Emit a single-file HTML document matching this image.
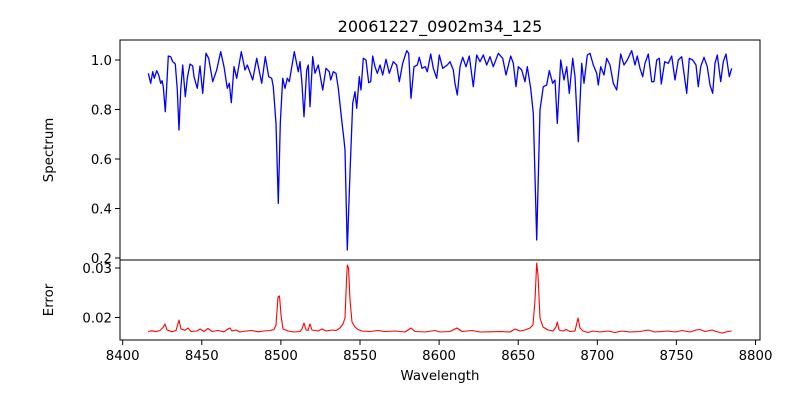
<!DOCTYPE html>
<html><head><meta charset="utf-8"><style>
body{margin:0;background:#fff}
svg{display:block;font-family:"DejaVu Sans","Liberation Sans",sans-serif}
</style></head><body>
<svg width="800" height="400" viewBox="0 0 800 400">
<rect width="800" height="400" fill="#fff"/>
<text x="440" y="32" font-size="16" text-anchor="middle">20061227_0902m34_125</text>
<polyline fill="none" stroke="#0000ff" stroke-width="1.3" stroke-linejoin="round" points="148.3,73.3 150.7,83.3 152.7,71.7 154.3,78.3 156.7,70.7 158.7,75 160.7,83.3 162,80.7 163.3,86.7 165.3,111.7 166.7,86.7 168.3,56 170.7,56.7 172.7,61.7 175.3,64 177.3,90 179,130 180.7,90 182.7,65 185.3,96.7 187.3,78.3 190,64 192.7,66 194,76.7 197.3,88.3 200,66 202.7,93.3 206,53.3 208.7,58.3 212.7,81.7 216.7,70 220.7,51.7 224,66.7 227.3,88.3 229.3,83.3 231.3,102.7 234,66.7 236.7,78.3 241.3,51.7 245,70 247.3,65 252.7,80 256.7,58.3 261.7,83.3 265.3,56.7 268.7,76.7 271.7,78.3 273.3,86.7 276,123.3 278.3,203.3 280.3,123.3 282.7,78.3 285,88.3 287.3,78.3 289.3,81.7 294.3,51.7 298.3,71.7 300,61.7 301.7,80 304,116.7 306.7,70 308.3,65 310,106.7 312.7,56.7 315,73.3 318.3,65 322.7,90 326,68.3 329.3,71.7 330.7,80 333.3,71.7 336,73.3 338.3,88.3 341.7,120 344,140 345,150 347.3,250 350,173 352.7,103.3 355,91.7 356.7,108.3 359.3,76.7 361,90 363.3,58.3 366,60 368.7,82.7 370.7,81.7 372.7,56 375,66.7 377.3,73.3 380,65 382.7,75 386,59.3 389.3,73.3 393.3,61.7 396.7,65 399.3,81.7 402.7,63.3 406.7,50.7 408.7,53.3 411,98.3 414,66.7 417.3,65 419.3,57.3 422,68.3 425.3,66.7 427.3,71.7 430.7,54 433.3,68.3 436.7,78.3 439.3,55 442.7,68.3 447.3,65 450,61.7 453.3,70 455,83.3 457.3,95 460,66.7 462.7,57.3 466,66.7 469.3,56 473.3,86.7 476.7,55 480,61.7 483.3,55 486.7,65 490,56.7 493.3,66.7 498.3,53.3 502.7,58.3 506,75 510.7,56 513.3,63.3 516,86.7 518.3,66.7 521.7,70 525,81.7 527.3,66.7 530.7,88.3 533.3,113.3 536.7,240 540,110 543.3,86.7 546.7,85 549.3,70.7 552.7,83.3 555,80 557.3,123.3 560.7,60 564,80 566.7,66.7 569.3,93.3 572.7,58.3 575,76.7 578.3,141.7 581.7,63.3 584,83.3 587.3,55 590,53.3 593.3,65 596.7,73.3 598.3,85 600.7,66.7 604,75 606.7,58.3 610,65 613.3,83.3 616.7,90 620.7,54 624,65 627.3,60 631.7,50.7 635,65 637.3,56 640,68.3 642.7,76.7 645,63.3 648.3,54 651.7,81.7 654,81.7 656.7,60 659.3,58.3 661.3,84 664.7,61.7 668.3,63.3 671.7,56 675,80 678.3,60 681.7,56.7 684,73.3 686.7,93.3 689.3,58.3 692.7,60 696,65 698.3,86.7 700.7,66.7 704,57.3 707.3,66.7 710,85 712.7,93.3 715,63.3 717.3,55 720.7,81.7 723.3,61.7 726,54 729.3,76.7 731.7,68.3"/>
<polyline fill="none" stroke="#ff0000" stroke-width="1.1" stroke-linejoin="round" points="148,331.5 152,330.8 156,331.6 160,330.5 163,327.5 165,324 167,330 172,331.7 176,330.5 179,320 181,329 185,330.3 188,328 191,331.5 197,331 200,329 204,331.5 208,328.5 212,331.5 218,330.5 224,331.8 228,329 230,328 232,331 236,330 240,332 246,331 252,330.5 258,331.8 264,331 270,330.5 274,329.5 276,325 278,297 279.5,296 281,315 283,329 288,331 294,332 300,331.5 302,329 304,323 306,330 308,330.5 310,324 312,330 318,331 322,329 326,331 332,330 336,330.5 340,328 343,324 345,318 346.5,280 347.3,265 348.5,268 350,300 352,322 355,327 358,329.5 362,331 370,331.5 378,330.5 385,331.5 395,331 405,332 411,328 415,331.5 425,332 435,330.5 440,332 450,331.5 457,328 462,331.5 472,330.5 480,332 490,331.8 500,331.5 510,332 515,329 520,331 525,330 530,328 533,325 535,300 536.7,263 538,275 540,318 543,327 548,330 553,331 556,327 557.3,322 559,330 563,331 566,329.5 570,331.5 575,331 578,318 580,328 583,331 588,332.5 593,331 600,332 608,331 615,332.5 622,331 630,332 640,331.5 648,330 655,332 662,331.5 668,331 675,332 682,330.5 690,332 696,330 700,329.5 705,331.5 712,330 716,331.5 722,333 728,331.5 731.7,331"/>
<rect x="120" y="40" width="640" height="220" fill="none" stroke="#000" stroke-width="1"/>
<rect x="120" y="260" width="640" height="80" fill="none" stroke="#000" stroke-width="1"/>
<g stroke="#000" stroke-width="1">
<line x1="115" x2="120" y1="60" y2="60"/><line x1="115" x2="120" y1="109.5" y2="109.5"/><line x1="115" x2="120" y1="159" y2="159"/><line x1="115" x2="120" y1="208.5" y2="208.5"/><line x1="115" x2="120" y1="258" y2="258"/>
<line x1="115" x2="120" y1="268" y2="268"/><line x1="115" x2="120" y1="317.5" y2="317.5"/>
<line x1="122.7" x2="122.7" y1="340" y2="345"/><line x1="201.8" x2="201.8" y1="340" y2="345"/><line x1="280.9" x2="280.9" y1="340" y2="345"/><line x1="360" x2="360" y1="340" y2="345"/><line x1="439.1" x2="439.1" y1="340" y2="345"/><line x1="518.2" x2="518.2" y1="340" y2="345"/><line x1="597.3" x2="597.3" y1="340" y2="345"/><line x1="676.4" x2="676.4" y1="340" y2="345"/><line x1="755.5" x2="755.5" y1="340" y2="345"/>
</g>
<g font-size="13.3" text-anchor="end">
<text x="112" y="65">1.0</text><text x="112" y="114.5">0.8</text><text x="112" y="164">0.6</text><text x="112" y="213.5">0.4</text><text x="112" y="263">0.2</text>
<text x="112" y="273">0.03</text><text x="112" y="322.5">0.02</text>
</g>
<g font-size="13.3" text-anchor="middle">
<text x="122.7" y="360">8400</text><text x="201.8" y="360">8450</text><text x="280.9" y="360">8500</text><text x="360" y="360">8550</text><text x="439.1" y="360">8600</text><text x="518.2" y="360">8650</text><text x="597.3" y="360">8700</text><text x="676.4" y="360">8750</text><text x="755.5" y="360">8800</text>
</g>
<text x="440" y="380" font-size="13.3" text-anchor="middle">Wavelength</text>
<text transform="translate(53,150) rotate(-90)" font-size="13.3" text-anchor="middle">Spectrum</text>
<text transform="translate(53,300) rotate(-90)" font-size="13.3" text-anchor="middle">Error</text>
</svg>
</body></html>
